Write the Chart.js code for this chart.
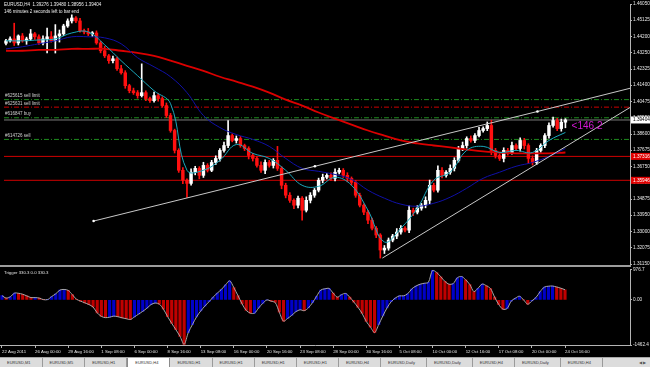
<!DOCTYPE html>
<html>
<head>
<meta charset="utf-8">
<script src="https://cdn.jsdelivr.net/npm/chart.js@4.4.1/dist/chart.umd.min.js"></script>
<style>
    html, body { margin: 0; padding: 0; background: #000; }
    body { width: 650px; height: 367px; position: relative; overflow: hidden; font-family: 'Liberation Sans', Arial, sans-serif; }
    #mainChart { position: absolute; left: 0; top: 0; }
    #trigChart { position: absolute; left: 0; top: 266px; }
    #sep { position: absolute; left: 0; top: 265px; width: 631px; height: 2px; background: #9c9c9c; }
    #tabs { position: absolute; left: 0; top: 357px; width: 650px; height: 10px; background: #dcdcdc; border-top: 1px solid #a8a8a8; box-sizing: border-box; white-space: nowrap; font-size: 4px; color: #333; }
    .tab { display: inline-block; height: 9px; line-height: 9px; padding: 0 11px 0 7px; border-right: 1px solid #9a9a9a; vertical-align: top; }
    .tab.active { background: #fff; border: 1px solid #8a8a8a; border-top: none; }
    #arrows { position: absolute; right: 4px; top: 0; line-height: 9px; font-size: 4px; color: #555; }
</style>
</head>
<body>
<canvas id="mainChart" width="650" height="268"></canvas>
<div id="sep"></div>
<canvas id="trigChart" width="650" height="91"></canvas>
<div id="tabs"><span id="arrows">&#9664; &#9654;</span></div>

<script>
// Bars are 8 hours each (two H4 bars), index 0 = 22 Aug 2011
const timeLabels = ['22 Aug 2011', '26 Aug 00:00', '29 Aug 16:00', '1 Sep 08:00', '6 Sep 00:00', '8 Sep 16:00',
    '13 Sep 08:00', '16 Sep 00:00', '20 Sep 16:00', '23 Sep 08:00', '28 Sep 00:00', '30 Sep 16:00',
    '5 Oct 08:00', '10 Oct 00:00', '12 Oct 16:00', '17 Oct 08:00', '20 Oct 00:00', '24 Oct 16:00'];

const firstOpen = 1.4380;
const closes = [
    1.4394, 1.4405, 1.4382, 1.4422, 1.4394, 1.4405, 1.4434, 1.4417, 1.4382, 1.4405,
    1.4417, 1.4394, 1.4422, 1.4434, 1.4479, 1.4508, 1.4525, 1.4508, 1.4451, 1.4445,
    1.4434, 1.4439, 1.4382, 1.4337, 1.4308, 1.4280, 1.4291, 1.4234, 1.4211, 1.4137,
    1.4108, 1.4097, 1.4080, 1.4097, 1.4063, 1.4051, 1.4080, 1.4063, 1.4023, 1.3966,
    1.3880, 1.3766, 1.3652, 1.3595, 1.3577, 1.3641, 1.3663, 1.3623, 1.3680, 1.3652,
    1.3697, 1.3720, 1.3766, 1.3794, 1.3851, 1.3823, 1.3834, 1.3794, 1.3777, 1.3737,
    1.3720, 1.3680, 1.3652, 1.3697, 1.3680, 1.3709, 1.3663, 1.3566, 1.3509, 1.3480,
    1.3452, 1.3492, 1.3423, 1.3480, 1.3509, 1.3538, 1.3595, 1.3612, 1.3623, 1.3606,
    1.3641, 1.3652, 1.3623, 1.3606, 1.3583, 1.3509, 1.3452, 1.3412, 1.3366, 1.3320,
    1.3281, 1.3195, 1.3206, 1.3252, 1.3275, 1.3298, 1.3320, 1.3309, 1.3423, 1.3412,
    1.3435, 1.3452, 1.3480, 1.3566, 1.3538, 1.3652, 1.3623, 1.3641, 1.3663, 1.3709,
    1.3777, 1.3794, 1.3834, 1.3823, 1.3851, 1.3880, 1.3891, 1.3909, 1.3766, 1.3737,
    1.3720, 1.3766, 1.3754, 1.3794, 1.3777, 1.3823, 1.3794, 1.3720, 1.3697, 1.3766,
    1.3794, 1.3851, 1.3909, 1.3937, 1.3891, 1.39276, 1.39404
];
// wick lengths in pips above / below the body
const wickUp = [
    8, 12, 90, 6, 14, 10, 25, 8, 12, 18,
    50, 30, 65, 22, 10, 12, 18, 8, 15, 10,
    20, 8, 12, 10, 25, 8, 15, 10, 20, 12,
    8, 15, 12, 165, 10, 8, 20, 12, 10, 15,
    12, 8, 10, 15, 8, 20, 12, 10, 18, 10,
    12, 15, 10, 20, 86, 10, 15, 12, 8, 10,
    12, 10, 20, 15, 12, 10, 80, 10, 12, 15,
    8, 12, 10, 20, 15, 10, 12, 18, 10, 15,
    20, 12, 10, 15, 8, 10, 12, 8, 10, 12,
    10, 8, 15, 12, 10, 20, 15, 10, 25, 12,
    15, 10, 20, 30, 12, 25, 15, 10, 20, 15,
    12, 20, 10, 15, 12, 18, 10, 20, 30, 12,
    10, 15, 12, 20, 10, 15, 12, 10, 15, 12,
    10, 12, 15, 20, 12, 18, 7.6
];
const wickDown = [
    10, 8, 15, 12, 8, 20, 10, 15, 8, 12,
    80, 8, 70, 35, 10, 8, 12, 10, 8, 12,
    10, 15, 8, 12, 10, 15, 12, 10, 8, 15,
    12, 10, 15, 8, 12, 10, 8, 15, 10, 12,
    10, 15, 12, 20, 80, 10, 15, 20, 12, 10,
    8, 12, 15, 10, 12, 8, 15, 10, 12, 20,
    15, 10, 12, 20, 10, 15, 12, 20, 15, 12,
    20, 15, 57, 10, 15, 12, 10, 15, 10, 12,
    15, 10, 12, 20, 15, 12, 10, 15, 20, 10,
    15, 46, 20, 12, 10, 15, 12, 10, 15, 20,
    10, 12, 15, 20, 10, 12, 15, 10, 12, 15,
    10, 12, 15, 10, 12, 8, 10, 12, 25, 15,
    12, 20, 15, 10, 12, 15, 20, 30, 15, 12,
    10, 12, 15, 10, 12, 15, 32
];

// moving averages read every 4 bars
const maStep = 4;
const fastMa = [1.4394, 1.4394, 1.4399, 1.4405, 1.4439, 1.4445, 1.4371, 1.4280, 1.4194, 1.4108,
    1.4034, 1.3652, 1.3652, 1.3709, 1.3800, 1.3749, 1.3720, 1.3652, 1.3566, 1.3560,
    1.3612, 1.3566, 1.3423, 1.3241, 1.3320, 1.3434, 1.3595, 1.3641, 1.3766, 1.3789,
    1.3754, 1.3766, 1.3754, 1.3823, 1.3869];
const slowMa = [1.4348, 1.4360, 1.4377, 1.4394, 1.4417, 1.4417, 1.4411, 1.4377, 1.4297, 1.4245,
    1.4188, 1.4097, 1.3966, 1.3897, 1.3857, 1.3829, 1.3789, 1.3720, 1.3663, 1.3646,
    1.3628, 1.3600, 1.3538, 1.3492, 1.3458, 1.3446, 1.3463, 1.3498, 1.3549, 1.3606,
    1.3641, 1.3675, 1.3697, 1.3732, 1.3777];
const longMa = [1.4337, 1.4337, 1.4342, 1.4342, 1.4348, 1.4348, 1.4348, 1.4337, 1.4325, 1.4308,
    1.4280, 1.4251, 1.4222, 1.4188, 1.4160, 1.4131, 1.4097, 1.4057, 1.4023, 1.3983,
    1.3948, 1.3914, 1.3880, 1.3851, 1.3823, 1.3806, 1.3794, 1.3783, 1.3771, 1.3760,
    1.3754, 1.3749, 1.3749, 1.3749, 1.3754];

// pending orders and levels
const orderNames = ['#625615 sell limit', '#625631 sell limit', '#616847 buy', '#614726 sell'];
const orderLevels = [1.4057, 1.4014, 1.3953, 1.3829];
const redLevels = [1.37316, 1.35946];
const currentPrice = 1.39404;

// trend lines (bar index / price)
const trendUpperIdx = [21.3, 75.1, 129.2, 151.7];
const trendUpperPrice = [1.3361, 1.3675, 1.3989, 1.4122];
const trendLowerIdx = [91.5, 151.7];
const trendLowerPrice = [1.3149, 1.4012];

const priceTicks = [1.46050, 1.45125, 1.44200, 1.43250, 1.42325, 1.41400, 1.40475, 1.39550, 1.38600,
    1.37675, 1.36750, 1.35825, 1.34875, 1.33950, 1.33000, 1.32075, 1.31150];
const priceMin = 1.31150, priceMax = 1.46050;

// Trigger indicator
const trigger = [
    140, 60, 100, 220, 215, 185, 130, 76, 76, 60,
    10, 10, 110, 200, 320, 340, 310, 170, 20, -40,
    -95, -150, -230, -420, -535, -575, -560, -525, -545, -580,
    -610, -635, -550, -460, -370, -270, -150, -100, -135, -300,
    -540, -760, -965, -1180, -1440, -1060, -800, -550, -360, -200,
    -60, 90, 220, 340, 490, 620, 400, 140, -130, -340,
    -430, -430, -260, -110, 0, -40, -85, -400, -690, -600,
    -500, -380, -320, -350, -260, -90, 120, 320, 360, 373,
    220, 90, 170, 210, 90, -70, -240, -440, -700, -880,
    -1060, -800, -520, -260, -60, 60, 132, 132, 200, 360,
    450, 510, 540, 570, 960, 890, 750, 600, 510, 530,
    720, 760, 655, 500, 270, 380, 515, 460, 370, 90,
    -150, -300, -280, -40, 55, 120, 0, -140, -30, 80,
    270, 415, 445, 450, 420, 380, 330.3
];
const trigMax = 976.7, trigMin = -1462.4;

const tabNames = ['EURUSD,M1', 'EURUSD,M5', 'EURUSD,H1', 'EURUSD,H4', 'EURUSD,H1', 'EURUSD,H1', 'EURUSD,H1',
    'EURUSD,H1', 'EURUSD,H4', 'EURUSD,Daily', 'EURUSD,Daily', 'EURUSD,H4', 'EURUSD,Daily', 'EURUSD,H4'];

const X_MIN = -0.48, X_MAX = 151.7;
const FONT = "'Liberation Sans', Arial, sans-serif";

document.addEventListener('DOMContentLoaded', function() {
    initMainChart();
    initTriggerChart();
    buildTabs();
});

function maPoints(values) {
    return values.map((v, k) => ({ x: k * maStep, y: v }));
}

function levelLine(value, color, dash, order) {
    return {
        type: 'line',
        data: [{ x: X_MIN, y: value }, { x: X_MAX, y: value }],
        borderColor: color,
        borderWidth: 1,
        borderDash: dash,
        pointRadius: 0,
        order: order
    };
}

function initMainChart() {
    const ctx = document.getElementById('mainChart').getContext('2d');

    const bodies = [], wicks = [], candleColors = [];
    closes.forEach((c, i) => {
        const o = i === 0 ? firstOpen : closes[i - 1];
        bodies.push({ x: i, y: [o, c] });
        wicks.push({ x: i, y: [Math.min(o, c) - wickDown[i] / 10000, Math.max(o, c) + wickUp[i] / 10000] });
        candleColors.push(c >= o ? '#ffffff' : '#ff1010');
    });

    const datasets = [];
    // order lines
    const orderColors = ['#1e8c1e', '#cc0000', '#1e8c1e', '#1e8c1e'];
    orderLevels.forEach((lvl, k) => datasets.push(levelLine(lvl, orderColors[k], [5, 2, 1, 2], 8)));
    redLevels.forEach(lvl => datasets.push(levelLine(lvl, '#d00000', [], 7)));
    datasets.push(levelLine(currentPrice, '#7c7c7c', [], 7));

    datasets.push({
        type: 'bar', data: wicks, backgroundColor: candleColors,
        barThickness: 1, grouped: false, order: 6
    });
    datasets.push({
        type: 'bar', data: bodies, backgroundColor: candleColors,
        barThickness: 2.8, minBarLength: 1, grouped: false, order: 5
    });

    datasets.push({ type: 'line', data: maPoints(longMa), borderColor: '#dc0000', borderWidth: 1.8, pointRadius: 0, tension: 0.4, order: 4 });
    datasets.push({ type: 'line', data: maPoints(slowMa), borderColor: '#1010a8', borderWidth: 1, pointRadius: 0, tension: 0.4, order: 3 });
    datasets.push({ type: 'line', data: maPoints(fastMa), borderColor: '#1aa8bc', borderWidth: 1, pointRadius: 0, tension: 0.4, order: 2 });

    // trend lines
    datasets.push({
        type: 'line',
        data: trendUpperIdx.map((x, k) => ({ x: x, y: trendUpperPrice[k] })),
        borderColor: '#c8c8c8', borderWidth: 1,
        pointRadius: [1.3, 1.3, 1.3, 0], pointBackgroundColor: '#ffffff', pointBorderWidth: 0,
        order: 1
    });
    datasets.push({
        type: 'line',
        data: trendLowerIdx.map((x, k) => ({ x: x, y: trendLowerPrice[k] })),
        borderColor: '#c8c8c8', borderWidth: 1, pointRadius: 0, order: 1
    });

    new Chart(ctx, {
        type: 'bar',
        data: { datasets: datasets },
        options: {
            responsive: false,
            animation: false,
            events: [],
            layout: { padding: { top: 3, bottom: 4, left: 0, right: 0 } },
            plugins: { legend: { display: false }, tooltip: { enabled: false } },
            scales: {
                x: { type: 'linear', min: X_MIN, max: X_MAX, offset: false, display: false },
                y: {
                    position: 'right',
                    min: priceMin,
                    max: priceMax,
                    afterFit: s => { s.width = 20; },
                    afterBuildTicks: s => { s.ticks = priceTicks.map(v => ({ value: v })); },
                    ticks: {
                        color: '#e6e6e6', font: { family: FONT, size: 4.7 }, padding: 1, autoSkip: false,
                        callback: v => v.toFixed(5)
                    },
                    grid: { drawOnChartArea: false, color: '#b4b4b4', tickLength: 2 },
                    border: { color: '#b4b4b4' }
                }
            }
        },
        plugins: [mainOverlay]
    });
}

// texts on the chart and price boxes on the axis
const mainOverlay = {
    id: 'mainOverlay',
    afterDraw(chart) {
        const c = chart.ctx;
        const ys = chart.scales.y, xs = chart.scales.x;
        const area = chart.chartArea;
        c.save();
        c.fillStyle = '#f0f0f0';
        c.font = '4.5px ' + FONT;
        c.textBaseline = 'middle';
        c.fillText('EURUSD,H4  1.39276 1.39480 1.38956 1.39404', 4, 5);
        c.fillText('146 minutes 2 seconds left to bar end', 4, 11.5);

        c.fillStyle = '#d0d0d0';
        c.textBaseline = 'bottom';
        orderLevels.forEach((lvl, k) => {
            c.fillText(orderNames[k], 5, ys.getPixelForValue(lvl) - 1.5);
        });

        c.fillStyle = '#d418d4';
        c.font = '10px ' + FONT;
        c.textBaseline = 'middle';
        c.fillText('<146.2', xs.getPixelForValue(137.5), ys.getPixelForValue(1.3905));

        const box = (value, bg, fg) => {
            const y = ys.getPixelForValue(value);
            c.fillStyle = bg;
            c.fillRect(area.right + 1, y - 3.5, 19, 7);
            c.fillStyle = fg;
            c.font = '4.7px ' + FONT;
            c.textBaseline = 'middle';
            c.fillText(value.toFixed(5), area.right + 3, y);
        };
        redLevels.forEach(v => box(v, '#e00000', '#ffffff'));
        box(currentPrice, '#ffffff', '#000000');
        c.restore();
    }
};

function initTriggerChart() {
    const ctx = document.getElementById('trigChart').getContext('2d');
    const bars = trigger.map((v, i) => ({ x: i, y: v }));
    const barColors = trigger.map((v, i) => (i > 0 && v < trigger[i - 1]) ? '#c00000' : '#0000c8');

    new Chart(ctx, {
        type: 'bar',
        data: {
            datasets: [
                { type: 'line', data: bars, borderColor: '#a8a8a8', borderWidth: 1, pointRadius: 0, tension: 0.3, order: 1 },
                { type: 'bar', data: bars, backgroundColor: barColors, barThickness: 2.5, grouped: false, order: 2 }
            ]
        },
        options: {
            responsive: false,
            animation: false,
            events: [],
            layout: { padding: { top: 3.5, bottom: 0, left: 0, right: 0 } },
            plugins: { legend: { display: false }, tooltip: { enabled: false } },
            scales: {
                x: {
                    type: 'linear', min: X_MIN, max: X_MAX, offset: false,
                    afterFit: s => { s.height = 12; },
                    afterBuildTicks: s => { s.ticks = timeLabels.map((t, k) => ({ value: k * 8 })); },
                    ticks: {
                        align: 'start', color: '#e6e6e6', font: { family: FONT, size: 4.3 },
                        padding: 1, maxRotation: 0, autoSkip: false,
                        callback: (v, i) => timeLabels[i]
                    },
                    grid: { drawOnChartArea: false, color: '#b4b4b4', tickLength: 3, offset: false },
                    border: { color: '#b4b4b4' }
                },
                y: {
                    position: 'right', min: trigMin, max: trigMax,
                    afterFit: s => { s.width = 20; },
                    afterBuildTicks: s => { s.ticks = [trigMax, 0, trigMin].map(v => ({ value: v })); },
                    ticks: {
                        color: '#e6e6e6', font: { family: FONT, size: 4.7 }, padding: 1, autoSkip: false,
                        callback: v => v === 0 ? '0.00' : v.toFixed(1)
                    },
                    grid: { drawOnChartArea: false, color: '#b4b4b4', tickLength: 2 },
                    border: { color: '#b4b4b4' }
                }
            }
        },
        plugins: [{
            id: 'trigLabel',
            afterDraw(chart) {
                const c = chart.ctx;
                c.save();
                c.fillStyle = '#e0e0e0';
                c.font = '4.3px ' + FONT;
                c.textBaseline = 'middle';
                c.fillText('Trigger 330.3 0.0 330.3', 4, 7);
                c.restore();
            }
        }]
    });
}

function buildTabs() {
    const bar = document.getElementById('tabs');
    tabNames.forEach((name, k) => {
        const t = document.createElement('span');
        t.className = 'tab' + (k === 3 ? ' active' : '');
        t.textContent = name;
        bar.appendChild(t);
    });
}
</script>
</body>
</html>
